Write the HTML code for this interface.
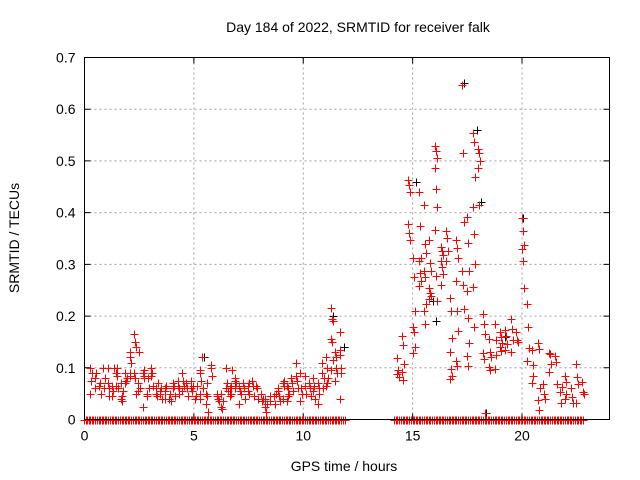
<!DOCTYPE html>
<html><head><meta charset="utf-8"><style>
body{margin:0;background:#fff;}
svg{display:block;font-family:"Liberation Sans",sans-serif;}
</style></head><body>
<svg id="chart" width="640" height="480" viewBox="0 0 640 480"></svg>
<script>
const xTicks=[0,5,10,15,20];
const yTicks=[0,0.1,0.2,0.3,0.4,0.5,0.6,0.7];
const yTickLabels=["0","0.1","0.2","0.3","0.4","0.5","0.6","0.7"];
const zeroTimes=[0,0.15,0.3,0.45,0.6,0.75,0.9,1.05,1.2,1.35,1.5,1.65,1.8,1.95,2.1,2.25,2.4,2.55,2.7,2.85,3,3.15,3.3,3.45,3.6,3.75,3.9,4.05,4.2,4.35,4.5,4.65,4.8,4.95,5.1,5.25,5.4,5.55,5.7,5.85,6,6.15,6.3,6.45,6.6,6.75,6.9,7.05,7.2,7.35,7.5,7.65,7.8,7.95,8.1,8.25,8.4,8.55,8.7,8.85,9,9.15,9.3,9.45,9.6,9.75,9.9,10.05,10.2,10.35,10.5,10.65,10.8,10.95,11.1,11.25,11.4,11.55,11.7,11.85,
14.2,14.35,14.5,14.65,14.8,14.95,15.1,15.25,15.4,15.55,15.7,15.85,16,16.15,16.3,16.45,16.6,16.75,16.9,17.05,17.2,17.35,17.5,17.65,17.8,17.95,18.1,18.25,18.4,18.55,18.7,18.85,19,19.15,19.3,19.45,19.6,19.75,19.9,20.05,20.2,20.35,20.5,20.65,20.8,20.95,21.1,21.25,21.4,21.55,21.7,21.85,22,22.15,22.3,22.45,22.6,22.75];
const blackTimes=[2.3,5.4,11.8,15.1,17.3,17.9,18.1,18.3,20.0,16.0,15.9,11.3,19.2];
const blackValues=[0.14,0.12,0.14,0.46,0.65,0.56,0.42,0.012,0.39,0.19,0.23,0.2,0.16];
const redTimes=[];const redValues=[];
const groups=[
[0.3,[.05,.075,.09,.1]],[0.5,[.06,.08,.09]],[0.7,[.065,.07,.05]],[0.9,[.1,.06,.08]],[1.1,[.1,.045,.06,.07]],[1.3,[.065,.055,.1,.045]],[1.5,[.065,.1,.06,.09,.085]],[1.7,[.04,.035,.055,.07,.045]],[1.9,[.09,.075,.08,.07]],[2.1,[.13,.12,.11,.09,.085]],[2.3,[.165,.15,.14,.09,.08,.05]],[2.5,[.055,.13,.06,.07]],[2.7,[.09,.085,.095,.025,.08]],[2.9,[.05,.08,.06,.045]],[3.1,[.1,.09,.065,.085]],[3.3,[.06,.045,.07,.05]],[3.5,[.055,.06,.04,.05]],[3.7,[.055,.04,.065,.06]],[3.9,[.04,.05,.035]],[4.1,[.07,.065,.045,.06]],[4.3,[.075,.06,.05,.065]],[4.5,[.09,.075,.065,.055]],[4.7,[.07,.06,.045]],[4.9,[.06,.055,.065,.075]],[5.1,[.04,.045,.065]],[5.3,[.09,.095,.075,.05,.04]],[5.4,[.12,.06]],[5.6,[.03,.045,.015,.05,.07]],[5.8,[.1,.105,.085]],[6.1,[.045,.04,.035,.05]],[6.3,[.025,.02,.035,.05]],[6.5,[.1,.07,.055,.06]],[6.7,[.06,.065,.095,.045,.05]],[6.9,[.08,.075,.07,.06]],[7.1,[.065,.055,.05,.03]],[7.3,[.07,.06,.04]],[7.5,[.065,.07,.05,.055]],[7.7,[.075,.065,.045]],[7.9,[.065,.06,.04]],[8.1,[.05,.035,.04]],[8.3,[.025,.015,.03,.04]],[8.5,[.035,.045]],[8.7,[.045,.03,.05]],[8.9,[.06,.045,.035,.055]],[9.1,[.07,.075,.065,.04]],[9.3,[.065,.045,.05,.035,.06]],[9.5,[.08,.07,.055]],[9.7,[.085,.075,.06,.11]],[9.9,[.09,.06,.05,.035]],[10.1,[.085,.065,.05]],[10.3,[.07,.06,.045]],[10.5,[.08,.065,.04,.055]],[10.7,[.07,.05,.06,.03]],[10.9,[.09,.06,.08,.11]],[11.1,[.12,.1,.08,.065,.07]],[11.3,[.215,.195,.19,.155,.15,.115,.095]],[11.5,[.13,.12,.09,.075,.1]],[11.7,[.135,.125,.09,.17,.04,.1]],
[14.32,[.119,.095,.082,.088]],[14.56,[.162,.145,.108,.092,.076]],[14.82,[.463,.453,.44,.378,.36,.348]],[15.05,[.313,.276,.209,.178,.169,.14,.128]],[15.35,[.439,.375,.313,.306,.284,.268,.258]],[15.57,[.415,.34,.322,.288,.276,.223,.209,.185]],[15.8,[.348,.303,.287,.255,.245,.239,.233]],[16.07,[.528,.519,.505,.487,.446,.41,.367,.278,.229]],[16.33,[.333,.326,.319,.306,.294,.281,.26]],[16.56,[.364,.351,.326,.306]],[16.75,[.235,.209,.158,.13,.098,.085,.079]],[17.04,[.348,.331,.313,.268,.21,.172,.114,.104]],[17.31,[.646,.515,.381,.288,.26,.213]],[17.54,[.391,.342,.287,.249,.196,.147,.122,.104]],[17.79,[.554,.536,.468,.41,.358,.301,.256]],[18.04,[.523,.515,.499,.486,.415]],[17.84,[.178]],[18.26,[.204,.185,.165,.128,.117,.012]],[18.52,[.156,.13,.12,.101,.095]],[18.79,[.185,.154,.124,.098]],[19.05,[.169,.159,.147,.141,.133]],[19.27,[.173,.162,.146,.135]],[19.55,[.194,.175,.153,.13]],[19.76,[.169,.153,.149]],[20.03,[.39,.365,.338,.329,.306,.255]],[20.26,[.223,.178,.138,.114]],[20.48,[.135,.106,.085,.071]],[20.76,[.147,.136,.06,.037,.018]],[21.01,[.069,.05,.04]],[21.27,[.128,.127,.108,.092]],[21.54,[.122,.111,.069]],[21.77,[.053,.031,.063]],[21.99,[.085,.072,.05,.04]],[22.27,[.06,.044,.031]],[22.52,[.108,.082,.069,.031]],[22.78,[.072,.053,.05]]];
groups.forEach(g=>g[1].forEach((v,i)=>{redTimes.push(g[0]+(i%3-1)*0.04);redValues.push(v);}));

const L=84.5,R=609.5,T=57.5,B=419.5,XMAX=24,YMAX=0.7;
const sx=v=>L+v/XMAX*(R-L), sy=v=>B-v/YMAX*(B-T);
const svg=document.getElementById('chart');const NS='http://www.w3.org/2000/svg';
function mk(tag,attrs,parent){const e=document.createElementNS(NS,tag);for(const k in attrs)e.setAttribute(k,attrs[k]);(parent||svg).appendChild(e);return e;}
yTicks.forEach((t,i)=>{
  if(i>0&&i<yTicks.length-1){const g=mk('line',{x1:L,x2:R,y1:sy(t),y2:sy(t),stroke:'#a0a0a0','stroke-dasharray':'2,3','stroke-width':1});
  
  }
  const tk=mk('path',{d:`M${L},${sy(t)}h6M${R},${sy(t)}h-6`,stroke:'#000'});
  
  
  const lb=mk('text',{x:L-9,y:sy(t)+5,'text-anchor':'end','font-size':14,fill:'#000'});lb.textContent=yTickLabels[i];
  
  
});
xTicks.forEach(t=>{
  if(t>0){const g=mk('line',{x1:sx(t),x2:sx(t),y1:T,y2:B,stroke:'#a0a0a0','stroke-dasharray':'2,3','stroke-width':1});
  
  }
  const tk=mk('path',{d:`M${sx(t)},${B}v-6M${sx(t)},${T}v6`,stroke:'#000'});
  
  
  const lb=mk('text',{x:sx(t),y:B+21,'text-anchor':'middle','font-size':14,fill:'#000'});lb.textContent=String(t);
  
  
});
function plus(x,y,col,name){x=Math.round(x)+0.5;y=Math.round(y)+0.5;
  const p=mk('path',{d:`M${x-4},${y}h8M${x},${y-4}v8`,stroke:col,'stroke-width':1,'shape-rendering':'crispEdges'});
  
  }
blackTimes.forEach((t,i)=>plus(sx(t)+1,sy(blackValues[i]),'#000','black-point'));
zeroTimes.forEach(t=>{plus(sx(t)-1,sy(0),'#ff0000','zero-point');plus(sx(t)+1,sy(0),'#ff0000','zero-point');});
redTimes.forEach((t,i)=>plus(sx(t),sy(redValues[i]),'#ff0000','red-point'));
const fr=mk('rect',{x:L,y:T,width:R-L,height:B-T,fill:'none',stroke:'#000'});


const ti=mk('text',{x:358,y:32,'text-anchor':'middle','font-size':14});ti.textContent='Day 184 of 2022, SRMTID for receiver falk';


const xl=mk('text',{x:344,y:471,'text-anchor':'middle','font-size':14});xl.textContent='GPS time / hours';


const yl=mk('text',{x:0,y:0,'text-anchor':'middle','font-size':14,transform:'translate(19,238) rotate(-90)'});yl.textContent='SRMTID / TECUs';


</script>
</body></html>
